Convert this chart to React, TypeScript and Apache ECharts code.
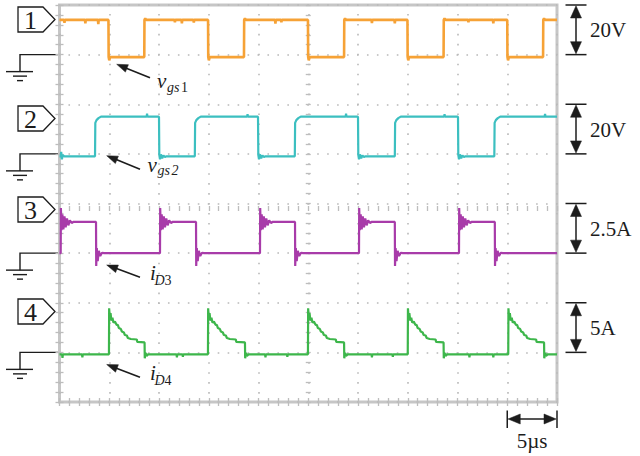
import React, { useEffect, useRef } from "react";
import * as echarts from "echarts";

type Pt = [number, number];

const W = 640;
const H = 456;
const SERIF = "'Liberation Serif', 'DejaVu Serif', serif";

// ---- Oscilloscope frame (time in µs, 5 µs/div, 10 div; 8 vertical div) ----
const T_MAX = 50;
const T_DIV = 5;
const Y_DIVS = 8;

// ---- Channels ----
const CH_NUMBERS = ["1", "2", "3", "4"];
const SCALE_LABELS = ["20V", "20V", "2.5A", "5A"];
const SCALE_PER_DIV = [20, 20, 2.5, 5];
const GROUND_DIV = [7, 5, 3, 1];
const COLORS = ["#F6A236", "#3CBFC0", "#A83BA9", "#3DB64B"];
const TIME_LABEL = "5µs";

// Ch1 v_gs1 (V)
const CH1_HIGH = 14;
const CH1_LOW = -1;
const CH1_FALLS = [4.92, 14.93, 24.97, 34.97, 45.0];
const CH1_RISES = [8.52, 18.54, 28.6, 38.6, 48.6];
const CH1_FALL_SHAPE: Pt[] = [[0, 14], [0.02, -1], [0.08, -2.3], [0.16, -1]];
const CH1_RISE_SHAPE: Pt[] = [[0, -1], [0.02, 14], [0.1, 14.6], [0.2, 14]];
const CH1_BLIPS: Pt[] = [
  [0.5, 12.8], [2.6, 12.6], [3.9, 12.3], [11.6, 13.0], [12.3, 12.6], [13.5, 12.9],
  [21.7, 12.5], [22.3, 13.0], [31.4, 12.7], [33.7, 12.6], [41.1, 13.0], [43.6, 12.6],
];

// Ch2 v_gs2 (V)
const CH2_HIGH = 15;
const CH2_LOW = -1;
const CH2_RISES = [3.57, 13.6, 23.65, 33.7, 43.7];
const CH2_FALLS = [10.0, 19.95, 30.0, 40.05];
const CH2_RISE_SHAPE: Pt[] = [[0, -1], [0.03, 12.5], [0.15, 13.6], [0.35, 14.4], [0.6, 15]];
const CH2_FALL_SHAPE: Pt[] = [
  [0, 15], [0.03, -0.4], [0.1, -2.2], [0.2, -0.2], [0.32, -1.8], [0.45, -0.6], [0.6, -1.3], [0.75, -1],
];
const CH2_START_GLITCH: Pt[] = [[0, -1], [0.05, 0.8], [0.12, -2.2], [0.22, -0.4], [0.35, -1]];
const CH2_START_GLITCH_T = 0.12;
const CH2_BLIPS: Pt[] = [[8.8, 16.2], [18.9, 16.0], [28.8, 16.2], [38.7, 16.0], [48.8, 16.1]];

// Ch3 i_D3 (A)
const CH3_LOW = 0;
const CH3_RISES = [0.12, 10.1, 20.15, 30.1, 40.15];
const CH3_FALLS = [3.67, 13.72, 23.67, 33.7, 43.75];
const CH3_RISE_SHAPE: Pt[] = [
  [0, 0], [0.02, 2.27], [0.08, 1.15], [0.17, 1.95], [0.27, 1.2], [0.38, 1.85], [0.5, 1.3],
  [0.63, 1.75], [0.77, 1.4], [0.92, 1.65], [1.1, 1.52], [1.3, 1.58],
];
const CH3_FALL_SHAPE: Pt[] = [
  [0, 1.57], [0.02, -0.65], [0.08, 0.25], [0.17, -0.4], [0.28, 0.12], [0.42, -0.15], [0.6, 0.02], [0.8, 0],
];

// Ch4 i_D4 (A)
const CH4_LOW = -0.2;
const CH4_RISES = [4.97, 14.92, 24.97, 35.0, 45.1];
const CH4_FALLS = [8.55, 18.64, 28.6, 38.6, 48.7];
const CH4_RISE_SHAPE: Pt[] = [
  [0, -0.2], [0.02, 4.45], [0.08, 3.5], [0.16, 3.95], [0.25, 3.2], [0.35, 3.5], [0.45, 3.0],
  [0.6, 3.1], [0.75, 2.8], [0.9, 2.75], [1.0, 2.45], [1.2, 2.35], [1.3, 2.1], [1.5, 2.0],
  [1.6, 1.75], [1.8, 1.7], [1.9, 1.45], [2.2, 1.35], [2.8, 1.3], [2.85, 1.05],
];
const CH4_FALL_SHAPE: Pt[] = [[0, 1.0], [0.02, -0.6], [0.1, -0.05], [0.2, -0.35], [0.35, -0.2]];
const CH4_BLIPS: Pt[] = [
  [0.3, -0.55], [2.3, -0.5], [11.8, -0.5], [12.4, -0.45], [20.7, -0.5], [22.9, -0.45],
  [31.4, -0.5], [33.5, -0.45], [41.2, -0.5], [43.6, -0.5],
];

// ---- layout ----
const GRID_L = 59.5;
const GRID_T = 5;
const GRID_W = 497.5;
const GRID_H = 397;
const DIV_PX = GRID_H / Y_DIVS;
const BOX_TOPS = [7, 106, 197, 299];

const GRID_DOT = "#b9b9b9";
const INK = "#1c1c1c";

function placeShapes(times: number[], shape: Pt[]): [number, Pt[]][] {
  return times.map((t) => [t, shape]);
}
function placeBlips(list: Pt[], base: number): [number, Pt[]][] {
  return list.map(([t, v]) => [t, [[-0.04, base], [0, v], [0.04, base]] as Pt[]]);
}
function buildTrace(start: number, end: number, chunks: [number, Pt[]][]): Pt[] {
  const sorted = [...chunks].sort((a, b) => a[0] - b[0]);
  const out: Pt[] = [[0, start]];
  for (const [t0, shape] of sorted) for (const [dt, v] of shape) out.push([t0 + dt, v]);
  out.push([T_MAX, end]);
  return out;
}

const TRACES: Pt[][] = [
  buildTrace(CH1_HIGH, CH1_HIGH, [
    ...placeShapes(CH1_FALLS, CH1_FALL_SHAPE),
    ...placeShapes(CH1_RISES, CH1_RISE_SHAPE),
    ...placeBlips(CH1_BLIPS, CH1_HIGH),
  ]),
  buildTrace(CH2_LOW, CH2_HIGH, [
    [CH2_START_GLITCH_T, CH2_START_GLITCH],
    ...placeShapes(CH2_RISES, CH2_RISE_SHAPE),
    ...placeShapes(CH2_FALLS, CH2_FALL_SHAPE),
    ...placeBlips(CH2_BLIPS, CH2_HIGH),
  ]),
  buildTrace(CH3_LOW, CH3_LOW, [
    ...placeShapes(CH3_RISES, CH3_RISE_SHAPE),
    ...placeShapes(CH3_FALLS, CH3_FALL_SHAPE),
  ]),
  buildTrace(CH4_LOW, CH4_LOW, [
    ...placeShapes(CH4_RISES, CH4_RISE_SHAPE),
    ...placeShapes(CH4_FALLS, CH4_FALL_SHAPE),
    ...placeBlips(CH4_BLIPS, CH4_LOW),
  ]),
];

const line = (x1: number, y1: number, x2: number, y2: number, w = 1.4) => ({
  type: "line",
  silent: true,
  shape: { x1, y1, x2, y2 },
  style: { stroke: INK, lineWidth: w },
});
const poly = (points: number[][]) => ({
  type: "polygon",
  silent: true,
  shape: { points },
  style: { fill: INK, stroke: INK, lineWidth: 0.5 },
});
const txt = (text: string, x: number, y: number, size: number, italic = false, align = "left") => ({
  type: "text",
  silent: true,
  x,
  y,
  style: {
    text,
    fontSize: size,
    fontFamily: SERIF,
    fontStyle: italic ? "italic" : "normal",
    fill: INK,
    align,
    verticalAlign: "middle",
    textAlign: align,
    textVerticalAlign: "middle",
  },
});

function arrow(x1: number, y1: number, x2: number, y2: number, len = 11, half = 4) {
  const dx = x2 - x1;
  const dy = y2 - y1;
  const d = Math.hypot(dx, dy);
  const ux = dx / d;
  const uy = dy / d;
  const bx = x2 - ux * len;
  const by = y2 - uy * len;
  return [
    line(x1, y1, bx + ux * 2, by + uy * 2, 1.6),
    poly([[x2, y2], [bx - uy * half, by + ux * half], [bx + uy * half, by - ux * half]]),
  ];
}

function buildGraphics() {
  const els: any[] = [];
  for (let i = 0; i < 4; i++) {
    const gy = GRID_T + (Y_DIVS - GROUND_DIV[i]) * DIV_PX;
    // channel marker box
    const top = BOX_TOPS[i];
    const bot = top + 25;
    const mid = (top + bot) / 2;
    els.push({
      type: "polygon",
      silent: true,
      shape: { points: [[18, top], [43, top], [55, mid], [43, bot], [18, bot]] },
      style: { fill: "#fff", stroke: INK, lineWidth: 1.3 },
    });
    els.push(txt(CH_NUMBERS[i], 30.5, mid + 0.5, 26, false, "center"));
    // ground symbol
    els.push({
      type: "polyline",
      silent: true,
      shape: { points: [[58, gy], [20, gy], [20, gy + 17]] },
      style: { stroke: INK, lineWidth: 1.4, fill: null },
    });
    els.push(line(6, gy + 17, 33, gy + 17));
    els.push(line(13, gy + 21.5, 27, gy + 21.5));
    els.push(line(17, gy + 26, 23, gy + 26));
    // scale bar on the right
    const yT = gy - DIV_PX;
    const yB = gy;
    const cx = 576;
    els.push(line(565.5, yT, 586.5, yT, 1.5));
    els.push(line(565.5, yB, 586.5, yB, 1.5));
    els.push(line(cx, yT + 10, cx, yB - 10, 1.5));
    els.push(poly([[cx, yT + 0.8], [cx - 5.5, yT + 13], [cx + 5.5, yT + 13]]));
    els.push(poly([[cx, yB - 0.8], [cx - 5.5, yB - 13], [cx + 5.5, yB - 13]]));
    els.push(txt(SCALE_LABELS[i], 590, (yT + yB) / 2 + 0.5, 21));
  }
  // time scale bar
  const xl = GRID_L + GRID_W - (GRID_W * T_DIV) / T_MAX;
  const xr = GRID_L + GRID_W;
  const ty = 419;
  els.push(line(xl, ty - 8.5, xl, ty + 9, 1.5));
  els.push(line(xr, ty - 8.5, xr, ty + 9, 1.5));
  els.push(line(xl + 10, ty, xr - 10, ty, 1.5));
  els.push(poly([[xl + 0.8, ty], [xl + 13, ty - 5], [xl + 13, ty + 5]]));
  els.push(poly([[xr - 0.8, ty], [xr - 13, ty - 5], [xr - 13, ty + 5]]));
  els.push(txt(TIME_LABEL, (xl + xr) / 2, 441, 21, false, "center"));

  // annotations
  els.push(...arrow(150, 77.7, 116.7, 64.3));
  els.push(txt("v", 157, 81, 21, true));
  els.push(txt("gs", 167, 87.3, 14, true));
  els.push(txt("1", 181, 87.3, 14));

  els.push(...arrow(140, 169.3, 106.7, 155.7));
  els.push(txt("v", 147.5, 165, 21, true));
  els.push(txt("gs", 157.5, 170.5, 14, true));
  els.push(txt("2", 171.5, 170.5, 14, true));

  els.push(...arrow(140, 277.3, 106.7, 265));
  els.push(txt("i", 150, 273, 21, true));
  els.push(txt("D", 154.5, 280.3, 14, true));
  els.push(txt("3", 164.5, 280.3, 14));

  els.push(...arrow(140, 377.3, 106.7, 364.5));
  els.push(txt("i", 150, 373, 21, true));
  els.push(txt("D", 154.5, 380.3, 14, true));
  els.push(txt("4", 164.5, 380.3, 14));
  return els;
}

function buildOption(): any {
  const dotted = { color: GRID_DOT, width: 1.6, type: [1.6, 8.35], dashOffset: 0.8 };
  const tickStyle = { color: "#bdbdbd", width: 1.3 };
  const borderX = (position: string, split: boolean) => ({
    type: "value",
    min: 0,
    max: T_MAX,
    interval: T_DIV,
    position,
    axisLine: { show: false },
    axisLabel: { show: false },
    axisTick: { show: true, inside: true, length: 4, lineStyle: tickStyle },
    minorTick: { show: true, splitNumber: 5, length: 4, lineStyle: tickStyle },
    splitLine: { show: split, lineStyle: dotted },
  });
  const borderY = (position: string, split: boolean) => ({
    type: "value",
    min: 0,
    max: Y_DIVS,
    interval: 1,
    position,
    axisLine: { show: false },
    axisLabel: { show: false },
    axisTick: { show: true, inside: true, length: 4, lineStyle: tickStyle },
    minorTick: { show: true, splitNumber: 5, length: 4, lineStyle: tickStyle },
    splitLine: { show: split, lineStyle: dotted },
  });
  return {
    animation: false,
    backgroundColor: "#ffffff",
    grid: {
      left: GRID_L,
      top: GRID_T,
      width: GRID_W,
      height: GRID_H,
      show: true,
      borderColor: "#c6c6c6",
      borderWidth: 3,
      backgroundColor: "#ffffff",
    },
    xAxis: [
      borderX("bottom", true),
      borderX("top", false),
      {
        type: "value",
        min: 0,
        max: T_MAX,
        interval: 1,
        position: "bottom",
        offset: -(GRID_H / 2 + 2.5),
        axisLine: { show: false },
        axisLabel: { show: false },
        axisTick: { show: true, inside: false, length: 5, lineStyle: tickStyle },
        splitLine: { show: false },
      },
    ],
    yAxis: [
      borderY("left", true),
      borderY("right", false),
      {
        type: "value",
        min: 0,
        max: Y_DIVS,
        interval: 0.2,
        position: "left",
        offset: -(GRID_W / 2 + 2.5),
        axisLine: { show: false },
        axisLabel: { show: false },
        axisTick: { show: true, inside: false, length: 5, lineStyle: tickStyle },
        splitLine: { show: false },
      },
    ],
    series: TRACES.map((trace, i) => ({
      type: "line",
      xAxisIndex: 0,
      yAxisIndex: 0,
      showSymbol: false,
      symbol: "none",
      silent: true,
      lineStyle: { color: COLORS[i], width: i === 0 ? 2.6 : 2.2 },
      data: trace.map(([t, v]) => [t, GROUND_DIV[i] + v / SCALE_PER_DIV[i]]),
      z: 5,
    })),
    graphic: { elements: buildGraphics() },
  };
}

export default function App() {
  const ref = useRef<HTMLDivElement>(null);
  useEffect(() => {
    if (!ref.current) return;
    const chart = echarts.init(ref.current, null, { renderer: "svg", width: W, height: H });
    chart.setOption(buildOption());
    return () => chart.dispose();
  }, []);
  return (
    <div
      ref={ref}
      style={{ position: "fixed", left: 0, top: 0, width: W, height: H, background: "#fff" }}
    />
  );
}
